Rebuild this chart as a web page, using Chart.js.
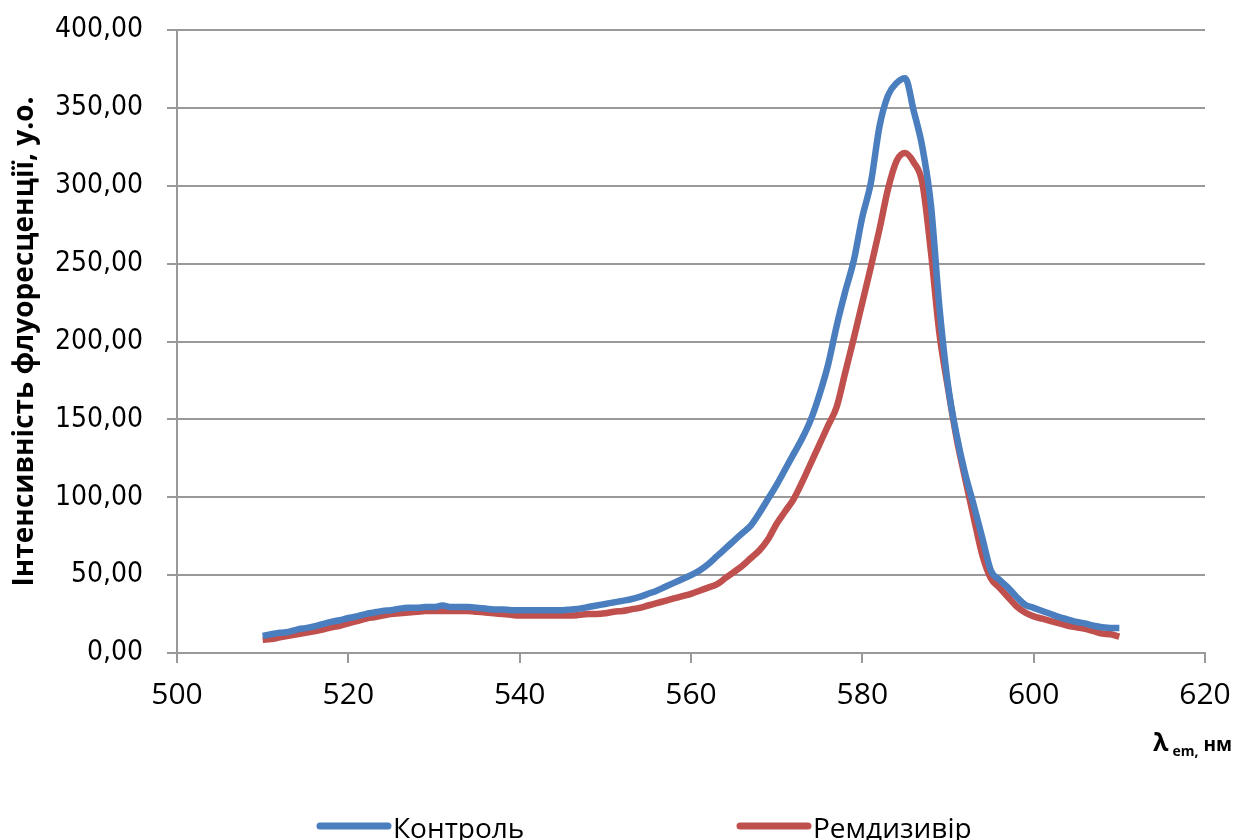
<!DOCTYPE html>
<html>
<head>
<meta charset="utf-8">
<script src="https://cdn.jsdelivr.net/npm/chart.js@4.4.1/dist/chart.umd.min.js"></script>
<style>
html,body{margin:0;padding:0;background:#fff;}
#wrap{width:1236px;height:840px;position:relative;}
</style>
</head>
<body>
<div id="wrap"><canvas id="c" width="1236" height="840"></canvas></div>
<script>
const wavelengths = [510,511,512,513,514,515,516,517,518,519,520,521,522,523,524,525,526,527,528,529,530,531,532,533,534,535,536,537,538,539,540,541,542,543,544,545,546,547,548,549,550,551,552,553,554,555,556,557,558,559,560,561,562,563,564,565,566,567,568,569,570,571,572,573,574,575,576,577,578,579,580,581,582,583,584,585,586,587,588,589,590,591,592,593,594,595,596,597,598,599,600,601,602,603,604,605,606,607,608,609,610];
const control = [11,12,13,13.5,15,16,17,18.5,20,21,22.5,23.5,25,26,27,27.5,28.5,29,29,29.5,29.5,30.5,29.5,29.5,29.5,29,28.5,28,28,27.5,27.5,27.5,27.5,27.5,27.5,27.5,28,28.5,29.5,30.5,31.5,32.5,33.5,34.5,36,38,40,42.5,45,47.5,50,53,57,62,67,72,77,82,90,99,108,118,128,138,150,166,185,210,232,252,280,302,338,358,366,369,348,325,288,222,172,140,115,95,74,53,47,42,36,31,29,27,25,23,21.5,20,19,17.5,16.5,16,16];
const remdesivir = [8.5,9,10,11,12,13,14,15,16.5,17.5,19,20.5,22,23,24,25,25.5,26,26.5,27,27,27,27,27,27,26.5,26,25.5,25,24.5,24,24,24,24,24,24,24,24.5,25,25,25.5,26.5,27,28,29,30.5,32,33.5,35,36.5,38,40,42,44,48,52,56,61,66,73,83,91,99,110,122,134,146,158,180,202,225,248,272,298,316,321,315,302,258,205,170,138,112,87,63,48,42,36,30,26,23.5,22,20.5,19,17.5,16.5,15.5,14,12.5,12,10.5];
const seriesNames = ['Контроль','Ремдизивір'];
const seriesColors = ['#4A7EBF','#C0504D'];
const yTitle = 'Інтенсивність флуоресценції, у.о.';
const xTitleMain = 'λ';
const xTitleSub = 'em,';
const xTitleUnit = ' нм';

function pts(vals){ return wavelengths.map((w,i)=>({x:w,y:vals[i]})); }

const legendAndTitle = {
  id:'legendAndTitle',
  afterDraw(chart){
    const ctx = chart.ctx;
    ctx.save();
    const right = 1232, base = 751;
    ctx.fillStyle = '#000';
    ctx.textBaseline = 'alphabetic';
    const fMain = 'bold 25px "Open Sans"';
    const fSub = 'bold 14px "Open Sans"';
    const fUnit = 'bold 19px "Open Sans"';
    ctx.font = fUnit; const wUnit = ctx.measureText(xTitleUnit).width;
    ctx.font = fMain; const wMain = ctx.measureText(xTitleMain).width;
    ctx.font = fSub; const wSub = ctx.measureText(xTitleSub).width;
    let x = right - wUnit - wSub - wMain - 4;
    ctx.font = fMain; ctx.textAlign='left'; ctx.fillText(xTitleMain, x, base);
    x += wMain + 4;
    ctx.font = fSub; ctx.fillText(xTitleSub, x, base + 5);
    x += wSub;
    ctx.font = fUnit; ctx.fillText(xTitleUnit, x, base);
    const starts = [320, 740];
    chart.data.datasets.forEach((ds,i)=>{
      const lx = starts[i], ly = 826;
      ctx.strokeStyle = ds.borderColor; ctx.lineWidth = 7; ctx.lineCap='round';
      ctx.beginPath(); ctx.moveTo(lx, ly); ctx.lineTo(lx+68, ly); ctx.stroke();
      ctx.font = '28px "Open Sans"'; ctx.fillStyle = '#000'; ctx.textAlign='left';
      ctx.fillText(ds.label, lx+73, 838);
    });
    ctx.restore();
  }
};

new Chart(document.getElementById('c'), {
  type:'line',
  data:{
    datasets:[
      {label:seriesNames[0], data:pts(control), borderColor:seriesColors[0], borderWidth:6.5, pointRadius:0, cubicInterpolationMode:'monotone', fill:false},
      {label:seriesNames[1], data:pts(remdesivir), borderColor:seriesColors[1], borderWidth:6.5, pointRadius:0, cubicInterpolationMode:'monotone', fill:false}
    ]
  },
  options:{
    responsive:false, animation:false, devicePixelRatio:1,
    layout:{padding:{top:30,right:31,bottom:0,left:0}},
    plugins:{legend:{display:false}, tooltip:{enabled:false}},
    scales:{
      x:{
        type:'linear', min:500, max:620,
        ticks:{stepSize:20, padding:14, color:'#000', font:{family:'Open Sans', size:30}, maxRotation:0},
        grid:{drawOnChartArea:false, drawTicks:true, tickLength:10, color:'#999', lineWidth:2},
        border:{display:true, color:'#999', width:2},
        afterFit(s){ s.height = 187; s.paddingLeft = 0; s.paddingRight = 0; }
      },
      y:{
        min:0, max:400,
        ticks:{stepSize:50, padding:24, color:'#000', font:{family:'DejaVu Sans Condensed', size:28},
          callback:v=>v.toFixed(2).replace('.',',')},
        grid:{color:'#999', lineWidth:2, tickLength:10},
        border:{display:true, color:'#999', width:2},
        title:{display:true, text:yTitle, color:'#000', font:{family:'Open Sans', size:28, weight:'bold'}, padding:{top:8,bottom:0}},
        afterFit(s){ s.width = 177; s.paddingTop = 0; s.paddingBottom = 0; }
      }
    }
  },
  plugins:[legendAndTitle]
});
</script>
</body>
</html>
